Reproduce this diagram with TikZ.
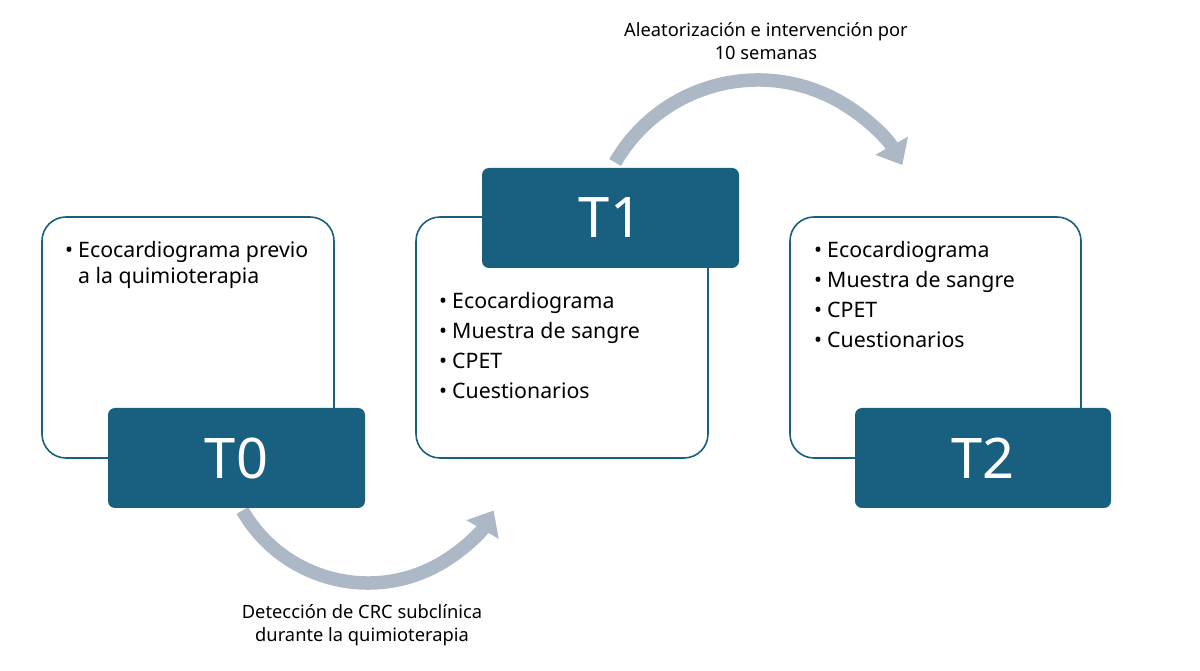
\documentclass[tikz,border=0pt]{standalone}
\usepackage{fontspec}
\setmainfont{Noto Sans}
\usetikzlibrary{arrows.meta}
\definecolor{teal}{HTML}{195F7F}
\definecolor{arrowgray}{HTML}{ADB8C6}
\begin{document}
\begin{tikzpicture}[x=1pt,y=1pt,
  outline/.style={draw=teal,line width=1.6pt,rounded corners=24pt,fill=white},
  tbox/.style={fill=teal,rounded corners=7pt},
  tlabel/.style={text=white,font=\fontsize{56}{60}\selectfont},
  bullets/.style={anchor=base west,inner sep=0pt,font=\fontsize{21.3}{26}\selectfont},
  caption/.style={align=center,font=\fontsize{18.3}{23.5}\selectfont},
  bigarrow/.style={draw=arrowgray,line width=13.5pt,-{Triangle[length=22pt,width=36pt]}}]
\useasboundingbox (0,0) rectangle (1200,670);
% arrows (behind boxes)
\draw[bigarrow] (368,232) ++(210:145) arc[start angle=210,end angle=330,radius=145] coordinate (a1end);
\draw[bigarrow] (758,425) ++(150:165) arc[start angle=150,end angle=29,radius=165] coordinate (a2end);
% T0
\draw[outline] (42,212) rectangle (334,453);
\fill[tbox] (108,162) rectangle (365,262);
\node[tlabel] (t0) at (236.5,212) {T0};
\node[bullets] (b0) at (65,412) {\begin{tabular}[t]{@{}l@{\hspace{5pt}}l@{}}\textbullet & Ecocardiograma previo\\ & a la quimioterapia\end{tabular}};
% T1
\draw[outline] (416,212) rectangle (708,453);
\fill[tbox] (482,402) rectangle (739,502);
\node[tlabel] (t1) at (610.5,452) {T1};
\node[bullets] (b1) at (439,361) {\begin{tabular}[t]{@{}l@{\hspace{5pt}}l@{}}\textbullet & Ecocardiograma\\[4pt] \textbullet & Muestra de sangre\\[4pt] \textbullet & CPET\\[4pt] \textbullet & Cuestionarios\end{tabular}};
% T2
\draw[outline] (790,212) rectangle (1081,453);
\fill[tbox] (855,162) rectangle (1111,262);
\node[tlabel] (t2) at (983,212) {T2};
\node[bullets] (b2) at (814,412) {\begin{tabular}[t]{@{}l@{\hspace{5pt}}l@{}}\textbullet & Ecocardiograma\\[4pt] \textbullet & Muestra de sangre\\[4pt] \textbullet & CPET\\[4pt] \textbullet & Cuestionarios\end{tabular}};
% captions
\node[caption] (c1) at (766,629) {Aleatorización e intervención por\\10 semanas};
\node[caption] (c2) at (362,45) {Detección de CRC subclínica\\durante la quimioterapia};
\end{tikzpicture}
\end{document}
